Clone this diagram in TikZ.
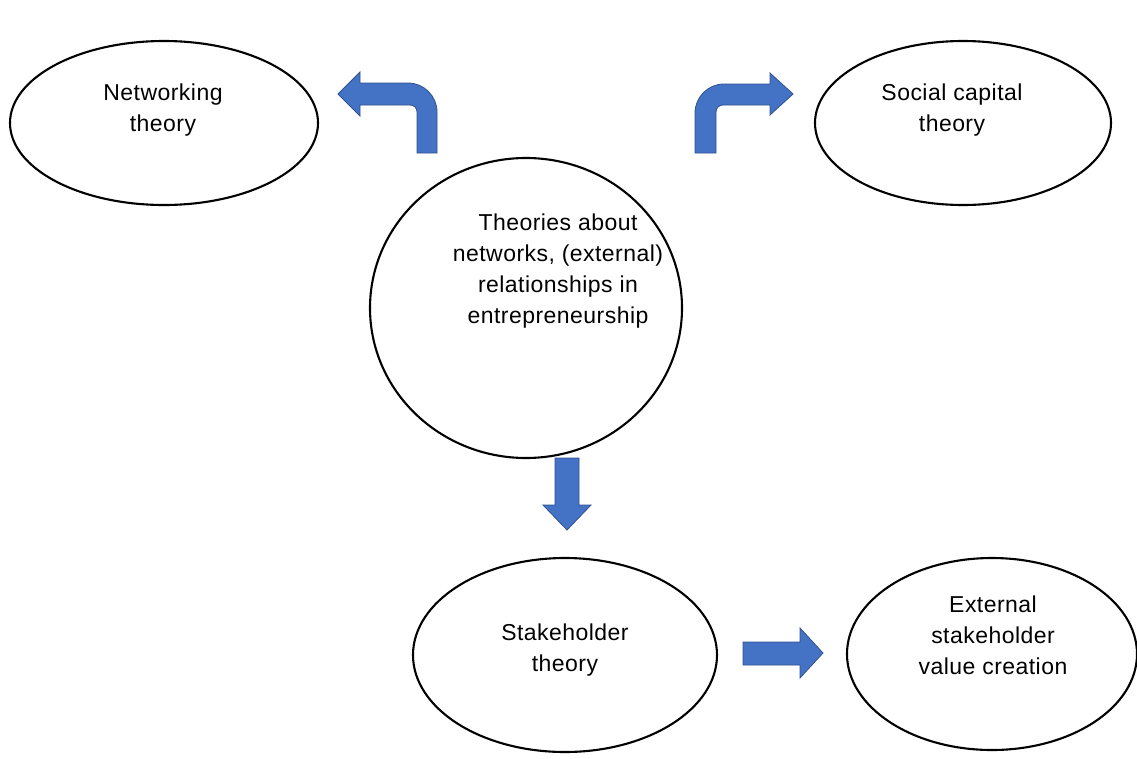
\documentclass[tikz,border=0pt]{standalone}
\usepackage{fontspec}
\setmainfont{Liberation Sans}[LetterSpace=2]
\usepackage{xcolor}
\usetikzlibrary{positioning, shapes.geometric}

\definecolor{arrowblue}{HTML}{4472C4}
\definecolor{arrowedge}{HTML}{2F528F}

\begin{document}
\begin{tikzpicture}[x=1pt, y=-1pt,
	bubble/.style = {draw, ellipse, line width=2.1pt, inner sep=0pt},
	caption/.style = {align=center, font=\fontsize{23}{31}\selectfont, inner sep=0pt},
	blockarrow/.style = {fill=arrowblue, draw=arrowedge, line width=0.8pt, line join=miter}]
		\useasboundingbox (0,0) rectangle (1137,758);

		% the five ellipses
		\node[bubble, minimum width=308pt, minimum height=164pt] (net) at (164,123) {};
		\node[bubble, minimum width=296pt, minimum height=164pt] (soc) at (963,123) {};
		\node[bubble, minimum width=312pt, minimum height=300pt] (core) at (526,308) {};
		\node[bubble, minimum width=304pt, minimum height=194pt] (stake) at (565,655) {};
		\node[bubble, minimum width=290pt, minimum height=192pt] (ext) at (992,654) {};

		% texts
		\node[caption] (nettext) at (163,110) {Networking\\theory};
		\node[caption] (soctext) at (952,110) {Social capital\\theory};
		\node[caption] (coretext) at (558,271) {Theories about\\networks, (external)\\relationships in\\entrepreneurship};
		\node[caption] (staketext) at (565,650) {Stakeholder\\theory};
		\node[caption] (exttext) at (993,635) {External\\stakeholder\\value creation};

		% block arrows
		\draw[blockarrow] (437,153) -- (437,112) .. controls (437,96) and (424,83) .. (408,83)
			-- (360,83) -- (360,72) -- (338,94) -- (360,116) -- (360,105) -- (410,105)
			.. controls (414,105) and (417,108) .. (417,112) -- (417,153) -- cycle;
		\draw[blockarrow] (695,153) -- (695,113) .. controls (695,97) and (708,84) .. (724,84)
			-- (770,84) -- (770,73) -- (793,94) -- (770,115) -- (770,105) -- (723,105)
			.. controls (719,105) and (716,108) .. (716,112) -- (716,153) -- cycle;
		\draw[blockarrow] (555,458) -- (579,458) -- (579,505) -- (591,505) -- (567,530)
			-- (543,505) -- (555,505) -- cycle;
		\draw[blockarrow] (743,642) -- (800,642) -- (800,628) -- (823,653) -- (800,678)
			-- (800,665) -- (743,665) -- cycle;

	\end{tikzpicture}
\end{document}
